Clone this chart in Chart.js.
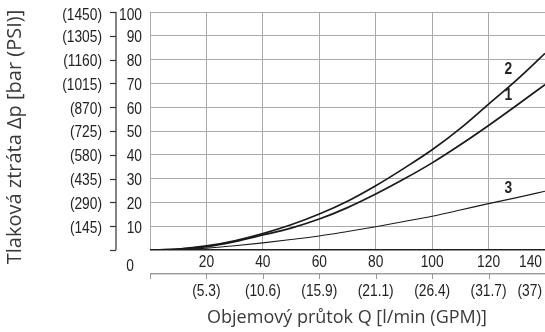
<!DOCTYPE html>
<html lang="cs">
<head>
<meta charset="UTF-8">
<title>Tlaková ztráta</title>
<script src="https://cdn.jsdelivr.net/npm/chart.js"></script>
<style>
  body { margin: 0; background: #fff; }
  canvas { display: block; }
</style>
</head>
<body>
<canvas id="chart" width="545" height="332"></canvas>
<script>
// průtok [l/min]
const flow = [0, 10, 20, 30, 40, 50, 60, 70, 80, 90, 100, 110, 120, 130, 140];
// tlaková ztráta [bar] pro křivky 1, 2, 3
const curve1 = [0, 0.35, 1.4, 3.5, 6.3, 9.2, 13.0, 17.8, 23.5, 29.8, 36.6, 44.2, 52.3, 60.8, 69.5];
const curve2 = [0, 0.4, 1.7, 3.9, 6.9, 10.6, 15.1, 20.5, 27.0, 34.3, 42.1, 51.1, 61.3, 71.5, 82.6];
const curve3 = [0, 0.2, 0.8, 1.8, 3.0, 4.4, 5.9, 7.8, 9.8, 12.0, 14.2, 16.8, 19.5, 22.0, 24.7];

const barTicks = [10, 20, 30, 40, 50, 60, 70, 80, 90, 100];
const psiLabels = ['(145)', '(290)', '(435)', '(580)', '(725)', '(870)', '(1015)', '(1160)', '(1305)', '(1450)'];
const flowTicks = [20, 40, 60, 80, 100, 120, 140];
const gpmLabels = ['(5.3)', '(10.6)', '(15.9)', '(21.1)', '(26.4)', '(31.7)', '(37)'];

const curveNames = ['1', '2', '3'];
const nameFlow = [127, 127, 127];
const nameBar = [64.7, 75.6, 25.6];

const numFont = '16px "Liberation Sans", Arial, sans-serif';

// úzké písmo (condensed) - vodorovně stlačený text
function narrowText(ctx, text, px, py, align) {
  ctx.save();
  ctx.translate(px, py);
  ctx.scale(0.86, 1);
  ctx.textAlign = align;
  ctx.fillText(text, 0, 0);
  ctx.restore();
}

const axesPlugin = {
  id: 'axes',
  afterDraw(chart) {
    const ctx = chart.ctx;
    const x = chart.scales.x, y = chart.scales.y;
    const area = chart.chartArea;
    const axisX = area.left - 34;
    const axisY = Math.round(area.bottom + 23);
    ctx.save();

    // levá osa
    ctx.strokeStyle = '#333';
    ctx.lineWidth = 1.2;
    ctx.beginPath();
    ctx.moveTo(axisX, y.getPixelForValue(100));
    ctx.lineTo(axisX, y.getPixelForValue(0));
    ctx.stroke();
    [0].concat(barTicks).forEach(v => {
      const py = Math.round(y.getPixelForValue(v)) + 0.5;
      ctx.beginPath();
      ctx.moveTo(axisX - 6, py);
      ctx.lineTo(axisX, py);
      ctx.stroke();
    });

    // spodní osa
    const x0 = x.getPixelForValue(0), x1 = x.getPixelForValue(140);
    ctx.fillStyle = '#999';
    ctx.fillRect(x0, axisY, x1 - x0, 1.4);
    [0].concat(flowTicks).forEach(v => {
      const px = Math.round(x.getPixelForValue(v));
      ctx.fillRect(px, axisY, 1, 6);
    });

    ctx.font = numFont;
    ctx.fillStyle = '#222';
    ctx.textBaseline = 'middle';
    barTicks.forEach((v, i) => {
      const py = y.getPixelForValue(v) + (v === 100 ? 4 : 2);
      narrowText(ctx, String(v), area.left - 8, py, 'right');
      narrowText(ctx, psiLabels[i], axisX - 14, py, 'right');
    });
    narrowText(ctx, '0', area.left - 20, y.getPixelForValue(0) + 17, 'center');

    flowTicks.forEach((v, i) => {
      let px = x.getPixelForValue(v);
      let align = 'center';
      if (v === 140) {
        align = 'right';
        px = area.right - 3;
      }
      narrowText(ctx, String(v), px, axisY - 10, align);
      narrowText(ctx, gpmLabels[i], px, axisY + 19, align);
    });

    // popisky křivek
    ctx.font = 'bold 16px "Liberation Sans", Arial, sans-serif';
    curveNames.forEach((n, i) => {
      narrowText(ctx, n, x.getPixelForValue(nameFlow[i]), y.getPixelForValue(nameBar[i]), 'center');
    });

    // názvy os
    ctx.fillStyle = '#3a3a3a';
    ctx.textAlign = 'center';
    ctx.font = '18px "Open Sans", "Noto Sans", sans-serif';
    ctx.fillText('Objemový průtok Q [l/min (GPM)]', 347, 318);
    ctx.font = '20px "Open Sans", "Noto Sans", sans-serif';
    ctx.translate(15, 137);
    ctx.rotate(-Math.PI / 2);
    ctx.fillText('Tlaková ztráta Δp [bar (PSI)]', 0, 0);
    ctx.restore();
  }
};

const line = (data, width) => ({
  data: data,
  borderColor: '#1a1a1a',
  borderWidth: width,
  pointRadius: 0,
  cubicInterpolationMode: 'monotone',
  fill: false
});

new Chart(document.getElementById('chart').getContext('2d'), {
  type: 'line',
  data: {
    labels: flow,
    datasets: [line(curve1, 1.7), line(curve2, 1.7), line(curve3, 1.1)]
  },
  options: {
    responsive: false,
    animation: false,
    devicePixelRatio: 1,
    layout: { padding: { left: 150, top: 12, right: 0, bottom: 82 } },
    plugins: { legend: { display: false }, tooltip: { enabled: false } },
    scales: {
      x: {
        type: 'linear',
        min: 0,
        max: 140,
        ticks: { display: false, stepSize: 20 },
        border: { display: false },
        grid: {
          drawTicks: false,
          color: c => (c.tick && c.tick.value === 140) ? 'rgba(0,0,0,0)' : '#aaa',
          lineWidth: 1
        }
      },
      y: {
        min: 0,
        max: 100,
        ticks: { display: false, stepSize: 10 },
        border: { display: false },
        grid: {
          drawTicks: false,
          color: c => (c.tick && c.tick.value === 0) ? '#222' : '#aaa',
          lineWidth: c => (c.tick && c.tick.value === 0) ? 1.6 : 1
        }
      }
    }
  },
  plugins: [axesPlugin]
});
</script>
</body>
</html>
